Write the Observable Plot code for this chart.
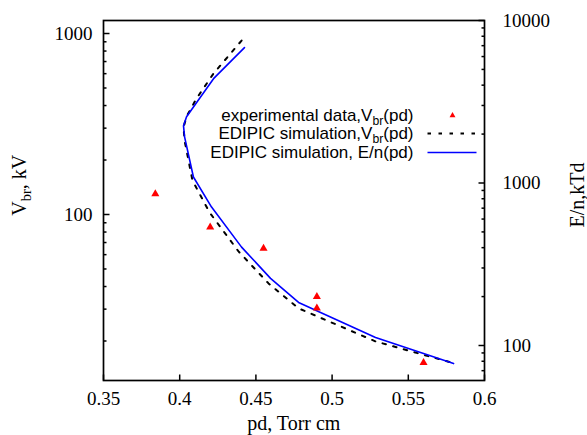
<!DOCTYPE html>
<html><head><meta charset="utf-8">
<script src="https://cdn.jsdelivr.net/npm/d3@7"></script>
<script src="https://cdn.jsdelivr.net/npm/@observablehq/plot@0.6"></script>
<style>body{margin:0;background:#fff} svg{display:block}</style>
</head><body><div id="chart"></div>
<script>
// experimental data, Vbr(pd)
const expPd  = [0.384, 0.420, 0.455, 0.490, 0.490, 0.560];
const expVbr = [130, 85, 65, 35.2, 30.4, 15.2];
// EDIPIC simulation, Vbr(pd) (left axis, kV)
const simPd  = [0.4406, 0.4222, 0.4110, 0.4045, 0.4025, 0.4032, 0.4084, 0.4196, 0.4386, 0.4583, 0.4780, 0.5285, 0.5783];
const simVbr = [914, 601, 437, 348, 303, 256, 154, 102.6, 62.5, 41.6, 30.3, 19.9, 15.2];
// EDIPIC simulation, E/n(pd) (right axis, kTd)
const enPd = [0.4425, 0.4222, 0.4110, 0.4045, 0.4025, 0.4032, 0.4090, 0.4209, 0.4406, 0.4596, 0.4780, 0.5285, 0.5797];
const enEn = [6810, 4385, 3119, 2555, 2249, 1923, 1089, 711, 403, 259, 184, 112, 77.4];
// axes
const xTicks = [0.35, 0.4, 0.45, 0.5, 0.55, 0.6];
const leftTicks = [100, 1000];
const rightTicks = [100, 1000, 10000];
const leftDomain = [12.1, 1180];
const rightDomain = [60.9, 10000];
const legendLabels = ["experimental data,V_{br}(pd)", "EDIPIC simulation,V_{br}(pd)", "EDIPIC simulation, E/n(pd)"];
const xTitle = "pd, Torr cm";
const yTitle = "V_{br}, kV";
const y2Title = "E/n,kTd";

const L0 = Math.log10(leftDomain[0]), L1 = Math.log10(leftDomain[1]);
const R0 = Math.log10(rightDomain[0]), R1 = Math.log10(rightDomain[1]);
const toLeft = e => 10 ** (L0 + (Math.log10(e) - R0) * (L1 - L0) / (R1 - R0));

const expData = expPd.map((x, i) => ({x, y: expVbr[i]}));
const simData = simPd.map((x, i) => ({x, y: simVbr[i]}));
const enData = enPd.map((x, i) => ({x, y: toLeft(enEn[i])}));

const leftMinor = d3.scaleLog().domain(leftDomain).ticks().filter(v => !leftTicks.includes(v));
const rightMinor = d3.scaleLog().domain(rightDomain).ticks().filter(v => !rightTicks.includes(v));

const seg = (x1, y1, x2, y2) => ({draw(ctx) { ctx.moveTo(x1, y1); ctx.lineTo(x2, y2); }});
const serif = "Liberation Serif, Times New Roman, serif";
const sans = "Liberation Sans, Arial, Helvetica, sans-serif";
const tickStyle = {fill: "none", stroke: "black", strokeWidth: 1.5};
const legendDy = [95, 113, 132];

const chart = Plot.plot({
  width: 587, height: 435,
  marginLeft: 103, marginRight: 103, marginTop: 20, marginBottom: 55,
  x: {type: "linear", domain: [0.35, 0.6], axis: null},
  y: {type: "log", domain: leftDomain, axis: null},
  style: {background: "white"},
  marks: [
    // ticks
    Plot.dot(xTicks, {x: d => d, frameAnchor: "bottom", symbol: seg(0, 0, 0, -6), ...tickStyle}),
    Plot.dot(leftTicks, {y: d => d, frameAnchor: "left", symbol: seg(0, 0, 6, 0), ...tickStyle}),
    Plot.dot(leftMinor, {y: d => d, frameAnchor: "left", symbol: seg(0, 0, 3, 0), ...tickStyle}),
    Plot.dot(rightTicks, {y: d => toLeft(d), frameAnchor: "right", symbol: seg(0, 0, -6, 0), ...tickStyle}),
    Plot.dot(rightMinor, {y: d => toLeft(d), frameAnchor: "right", symbol: seg(0, 0, -3, 0), ...tickStyle}),
    // tick labels
    Plot.text(xTicks, {x: d => d, frameAnchor: "bottom", lineAnchor: "middle", dy: 18, text: d => String(d), fontSize: 19, fontFamily: serif}),
    Plot.text(leftTicks, {y: d => d, frameAnchor: "left", lineAnchor: "middle", dx: -11, textAnchor: "end", text: d => String(d), fontSize: 19, fontFamily: serif}),
    Plot.text(rightTicks, {y: d => toLeft(d), frameAnchor: "right", lineAnchor: "middle", dx: 18, textAnchor: "start", text: d => String(d), fontSize: 19, fontFamily: serif}),
    // axis titles
    Plot.text([xTitle], {frameAnchor: "bottom", dy: 44, fontSize: 20, fontFamily: serif, className: "t-x"}),
    Plot.text([yTitle], {frameAnchor: "left", dx: -81, rotate: -90, fontSize: 20, fontFamily: serif, className: "t-y"}),
    Plot.text([y2Title], {frameAnchor: "right", dx: 93, rotate: -90, fontSize: 20, fontFamily: serif, className: "t-y2"}),
    // data
    Plot.line(simData, {x: "x", y: "y", stroke: "black", strokeWidth: 2, strokeDasharray: "3.5,7.5"}),
    Plot.line(enData, {x: "x", y: "y", stroke: "#0000ff", strokeWidth: 1.6}),
    Plot.dot(expData, {x: "x", y: "y", symbol: "triangle", r: 3, fill: "#ff0000", stroke: "none"}),
    // legend
    ...legendLabels.map((lab, i) => Plot.text([lab], {frameAnchor: "top-left", lineAnchor: "middle", dx: 310, dy: legendDy[i], textAnchor: "end", fontSize: 17, fontFamily: sans})),
    Plot.dot([0], {frameAnchor: "top-left", dx: 349, dy: 95, symbol: "triangle", r: 2.2, fill: "#ff0000", stroke: "none"}),
    Plot.dot([0], {frameAnchor: "top-left", dx: 348.5, dy: 113, symbol: seg(-24.5, 0, 24.5, 0), fill: "none", stroke: "black", strokeWidth: 2, strokeDasharray: "3.5,7.5"}),
    Plot.dot([0], {frameAnchor: "top-left", dx: 348.5, dy: 132, symbol: seg(-24.5, 0, 24.5, 0), fill: "none", stroke: "#0000ff", strokeWidth: 1.6}),
    Plot.frame({stroke: "black", strokeWidth: 1.7})
  ]
});

document.getElementById("chart").appendChild(chart);

// subscripts: V_{br}
for (const t of chart.querySelectorAll("text")) {
  const s = t.textContent;
  if (!s.includes("_{")) continue;
  const fs = parseFloat(t.closest("[font-size]")?.getAttribute("font-size")) || 17;
  const parts = s.split(/(_\{[^}]*\})/);
  while (t.firstChild) t.removeChild(t.firstChild);
  let shifted = false;
  for (const p of parts) {
    if (!p) continue;
    const ts = document.createElementNS("http://www.w3.org/2000/svg", "tspan");
    if (p.startsWith("_{")) {
      ts.textContent = p.slice(2, -1);
      ts.setAttribute("font-size", (fs * 0.72).toFixed(1));
      ts.setAttribute("dy", (fs * 0.25).toFixed(1));
      shifted = true;
    } else {
      ts.textContent = p;
      if (shifted) { ts.setAttribute("dy", (-fs * 0.25).toFixed(1)); shifted = false; }
    }
    t.appendChild(ts);
  }
}

// center axis titles at their target positions
function centerAt(sel, cx, cy) {
  const el = chart.querySelector(sel + " text");
  if (!el) return;
  const s = chart.getBoundingClientRect();
  const r = el.getBoundingClientRect();
  const dx = cx - (r.left - s.left + r.width / 2);
  const dy = cy - (r.top - s.top + r.height / 2);
  el.setAttribute("transform", `translate(${dx.toFixed(1)},${dy.toFixed(1)}) ` + (el.getAttribute("transform") || ""));
}
centerAt(".t-y", 21, 185);
centerAt(".t-y2", 577, 195);
centerAt(".t-x", 294, 423);
</script></body></html>
